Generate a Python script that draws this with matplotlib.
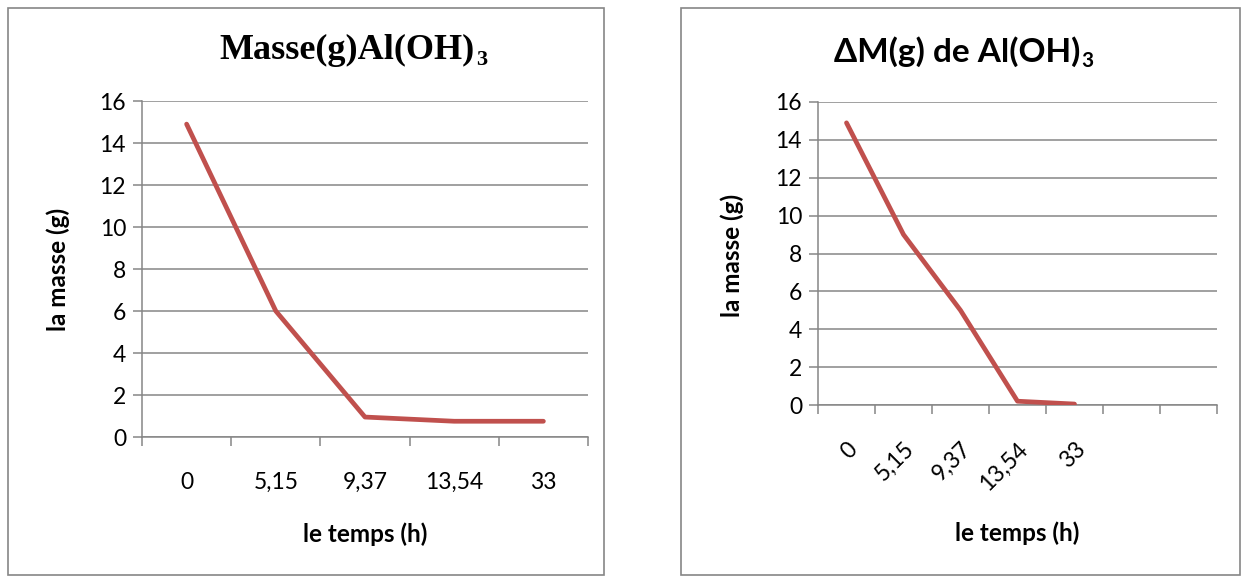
import matplotlib
matplotlib.use("Agg")
import matplotlib.pyplot as plt
from matplotlib.patches import Rectangle
from matplotlib.ticker import FixedLocator

categories_left = ["0", "5,15", "9,37", "13,54", "33"]
masse_left = [14.9, 6.0, 0.95, 0.75, 0.75]

categories_right = ["0", "5,15", "9,37", "13,54", "33", "", ""]
masse_right = [14.9, 9.0, 5.0, 0.2, 0.05]

title_left = ("Masse(g)Al(OH)", "3")
title_right = ("\u0394M(g) de Al(OH)", "3")
xlabel = "le temps (h)"
ylabel = "la masse (g)"
yticks = [0, 2, 4, 6, 8, 10, 12, 14, 16]

W, H = 1245, 581
fig = plt.figure(figsize=(W / 100, H / 100), dpi=100)
fig.patch.set_facecolor("white")

GRID = "#868686"
LINE = "#C0504D"
SANS = ["Lato", "DejaVu Sans"]
TICK_FS = 16.5
LAB_FS = 17.5


def px_axes(x0, y_top, x1, y_bot):
    return fig.add_axes([x0 / W, 1 - y_bot / H, (x1 - x0) / W, (y_bot - y_top) / H])


# chart borders
for (x0, y0, x1, y1) in [(8, 8, 604, 575), (681, 8, 1240, 575)]:
    fig.patches.append(Rectangle((x0 / W, 1 - y1 / H), (x1 - x0) / W, (y1 - y0) / H,
                                 transform=fig.transFigure, fill=False,
                                 edgecolor=GRID, linewidth=1.2))


def style(ax, cats, vals):
    n = len(cats)
    x = list(range(len(vals)))
    ax.plot(x, vals, color=LINE, linewidth=3.4, solid_capstyle="round",
            solid_joinstyle="round", zorder=3)
    ax.set_xlim(-0.5, n - 0.5)
    ax.set_ylim(0, 16)
    ax.set_yticks(yticks)
    ax.yaxis.grid(True, color=GRID, linewidth=1.1)
    ax.set_axisbelow(True)
    for s in ["top", "right"]:
        ax.spines[s].set_visible(False)
    for s in ["left", "bottom"]:
        ax.spines[s].set_color(GRID)
        ax.spines[s].set_linewidth(1.1)
    ax.set_xticks(range(n))
    ax.xaxis.set_minor_locator(FixedLocator([i - 0.5 for i in range(n + 1)]))
    ax.tick_params(axis="x", which="major", length=0)
    ax.tick_params(axis="x", which="minor", length=6.5, width=1.1, color=GRID, direction="out")
    ax.tick_params(axis="y", length=6.5, width=1.1, color=GRID, direction="out", pad=5)
    for lab in ax.get_yticklabels():
        lab.set_fontfamily(SANS)
        lab.set_fontsize(TICK_FS)
    ax.set_ylabel(ylabel, fontfamily=SANS, fontweight="bold", fontsize=LAB_FS,
                  va="center")
    ax.set_xlabel(xlabel, fontfamily=SANS, fontweight="bold", fontsize=LAB_FS,
                  va="center")


def sub_title(cx, cy, parts, family, size):
    main, sub = parts
    r = fig.canvas.get_renderer()
    t1 = fig.text(0, cy / H, main, ha="left", va="center", fontfamily=family,
                  fontweight="bold", fontsize=size)
    t2 = fig.text(0, cy / H, sub, ha="left", va="center", fontfamily=family,
                  fontweight="bold", fontsize=size * 0.62)
    w1 = t1.get_window_extent(r).width
    w2 = t2.get_window_extent(r).width
    x0 = cx - (w1 + w2) / 2
    t1.set_position((x0 / W, 1 - cy / H))
    t2.set_position(((x0 + w1 + 1) / W, 1 - (cy + size * 0.38) / H))


# Left chart
axL = px_axes(142, 101, 588, 437)
style(axL, categories_left, masse_left)
axL.set_xticklabels(categories_left, fontfamily=SANS, fontsize=TICK_FS)
axL.tick_params(axis="x", which="major", pad=25)
axL.xaxis.set_label_coords((365 - 142) / 446, (437 - 534) / 336)
axL.yaxis.set_label_coords((58 - 142) / 446, 0.5)
sub_title(353, 50, title_left, "Liberation Serif", 26)

# Right chart
axR = px_axes(818, 102, 1217, 405)
style(axR, categories_right, masse_right)
axR.set_xticklabels(categories_right, fontfamily=SANS, fontsize=TICK_FS,
                    rotation=45, ha="right", va="top", rotation_mode="anchor")
axR.tick_params(axis="x", which="major", pad=24)
axR.xaxis.set_label_coords((1017 - 818) / 399, (405 - 533) / 303)
axR.yaxis.set_label_coords((732 - 818) / 399, (405 - 255) / 303)
sub_title(963, 52, title_right, SANS, 24)

fig.savefig("out.png", dpi=100, facecolor="white")
